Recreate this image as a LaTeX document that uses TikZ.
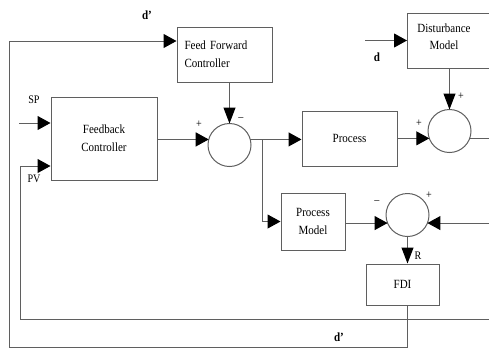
\documentclass[tikz,border=0pt]{standalone}
\usepackage{fontspec}
\setmainfont[FakeStretch=0.88]{Liberation Serif}
\usetikzlibrary{arrows.meta}
\definecolor{linec}{RGB}{95,95,95}
\begin{document}
\begin{tikzpicture}[x=1pt,y=-1pt,
  blk/.style={draw=linec, line width=1pt, fill=white, inner sep=2pt, font=\fontsize{12.5}{18}\selectfont, align=center},
  sum/.style={circle, draw=linec, line width=1pt, minimum size=43pt, inner sep=0pt, outer sep=0pt},
  con/.style={draw=linec, line width=1pt},
  harr/.style={con, -{Triangle[length=13pt,width=14pt,fill=black,color=black]}},
  varr/.style={con, -{Triangle[length=16pt,width=12pt,fill=black,color=black]}},
  lab/.style={font=\fontsize{11.5}{13}\selectfont, inner sep=0pt},
  dl/.style={font=\bfseries\fontsize{12.5}{14}\selectfont, inner sep=0pt}]
\useasboundingbox (0,0) rectangle (489,349);
% blocks
\node[blk, minimum width=95pt, minimum height=55pt, text width=80pt, align=left] (ff) at (224.5,54.5) {Feed Forward\\Controller};
\node[blk, minimum width=106pt, minimum height=83pt] (fb) at (104,138.5) {Feedback\\Controller};
\node[blk, minimum width=95pt, minimum height=55pt] (proc) at (349.5,138.5) {Process};
\node[blk, minimum width=64pt, minimum height=57pt] (pm) at (313,221.5) {Process\\Model};
\node[blk, minimum width=90pt, minimum height=55pt, anchor=north west] (dm) at (407,13) {};
\node[font=\fontsize{12.5}{17}\selectfont, align=center] (dmt) at (444,37) {Disturbance\\Model};
\node[blk, minimum width=73pt, minimum height=41pt] (fdi) at (402.5,284.5) {FDI};
% summing junctions
\node[sum] (s1) at (229.5,145) {};
\node[sum] (s2) at (449.5,131) {};
\node[sum] (s3) at (407.5,215) {};
% coordinates
\coordinate (j) at (262,0);
\coordinate (din) at (365,40.5);
\coordinate (edge) at (495,0);
\coordinate (ob) at (9,347);
\coordinate (ot) at (9,41);
\coordinate (ib) at (20,319);
\coordinate (it) at (20,166);
\coordinate (sp) at (19,123);
% connectors
\draw[harr] (fb.east |- s1.165) -- (s1.165);
\draw[varr] (s1.north |- ff.south) -- (s1.north);
\draw[harr] (s1.15) -- (s1.15 -| proc.west);
\draw[harr] (s1.15 -| j) |- (pm.west);
\draw[harr] (proc.east |- s2.200) -- (s2.200);
\draw[varr] (s2.north |- dm.south) -- (s2.north);
\draw[harr] (din) -- (din -| dm.west);
\draw[con] (s2.340) -- (s2.340 -| edge);
\draw[harr] (pm.east |- s3.202) -- (s3.202);
\draw[harr] (s3.338 -| edge) -- (s3.338);
\draw[varr] (s3.south) -- (s3.south |- fdi.north);
\draw[harr] (s3.south |- fdi.south) |- (ob) -- (ot) -- (ot -| ff.west);
\draw[harr] (ib -| edge) -- (ib) -- (it) -- (it -| fb.west);
\draw[harr] (sp) -- (sp -| fb.west);
% labels
\node[dl] (dp1) at (147,15) {d’};
\node[dl] (dlab) at (377,57) {d};
\node[dl] (dp2) at (339,337) {d’};
\node[lab] (splab) at (34,100) {SP};
\node[lab] (pvlab) at (34,179) {PV};
\node[lab] (p1) at (199,124) {+};
\node[lab] (m1) at (241,119) {–};
\node[lab] (p2) at (461,96) {+};
\node[lab] (p3) at (419,123) {+};
\node[lab] (m3) at (377,202) {–};
\node[lab] (p4) at (429,195) {+};
\node[lab] (rl) at (418,256) {R};
\end{tikzpicture}
\end{document}
